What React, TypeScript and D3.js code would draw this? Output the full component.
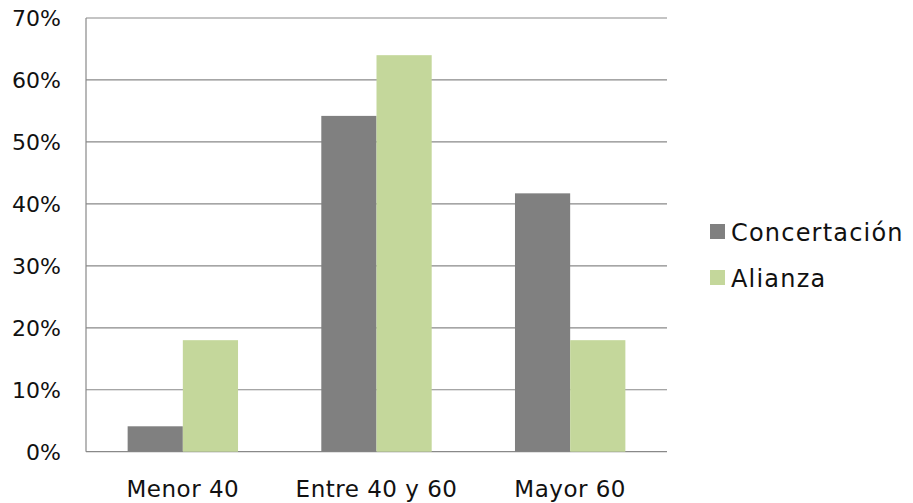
import React from "react";
import * as d3 from "d3";

const categories = ["Menor 40", "Entre 40 y 60", "Mayor 60"];
const seriesNames = ["Concertación", "Alianza"];
const concertacion = [4.1, 54.2, 41.7];
const alianza = [18.0, 64.0, 18.0];
const yTicks = [0, 10, 20, 30, 40, 50, 60, 70];
const colors = ["#808080", "#C4D79B"];

const W = 913;
const H = 503;
const left = 86;
const right = 667;
const top = 18;
const bottom = 451.7;
const FONT = "'DejaVu Sans', sans-serif";

export default function App() {
  const x = d3.scaleBand<string>().domain(categories).range([left, right]).padding(0);
  const y = d3.scaleLinear().domain([0, 70]).range([bottom, top]);
  const barW = x.bandwidth() * 0.285;
  const series = [concertacion, alianza];

  return (
    <svg width={W} height={H} style={{ position: "fixed", left: 0, top: 0, background: "#fff" }}>
      {yTicks.map((t) => (
        <g key={t}>
          <line x1={left} x2={right} y1={y(t)} y2={y(t)} stroke="#898989" strokeWidth={1.2} />
          <text x={61} y={y(t)} dy="0.36em" textAnchor="end" fontFamily={FONT} fontSize={22} fill="#111">
            {t}%
          </text>
        </g>
      ))}
      <line x1={left} x2={left} y1={top} y2={bottom} stroke="#898989" strokeWidth={1.2} />
      {categories.map((c, i) => {
        const cx = (x(c) as number) + x.bandwidth() / 2;
        return (
          <g key={c}>
            {series.map((s, j) => (
              <rect
                key={j}
                x={cx - barW + j * barW}
                y={y(s[i])}
                width={barW}
                height={bottom - y(s[i])}
                fill={colors[j]}
              />
            ))}
            <text x={cx} y={497} textAnchor="middle" fontFamily={FONT} fontSize={23} letterSpacing={0.5} fill="#111">
              {c}
            </text>
          </g>
        );
      })}
      {seriesNames.map((n, j) => (
        <g key={n} transform={`translate(710, ${224 + j * 46})`}>
          <rect x={0} y={0} width={15} height={15} fill={colors[j]} />
          <text x={21} y={7.5} dy="0.38em" fontFamily={FONT} fontSize={24} letterSpacing={1.2} fill="#111">
            {n}
          </text>
        </g>
      ))}
    </svg>
  );
}
